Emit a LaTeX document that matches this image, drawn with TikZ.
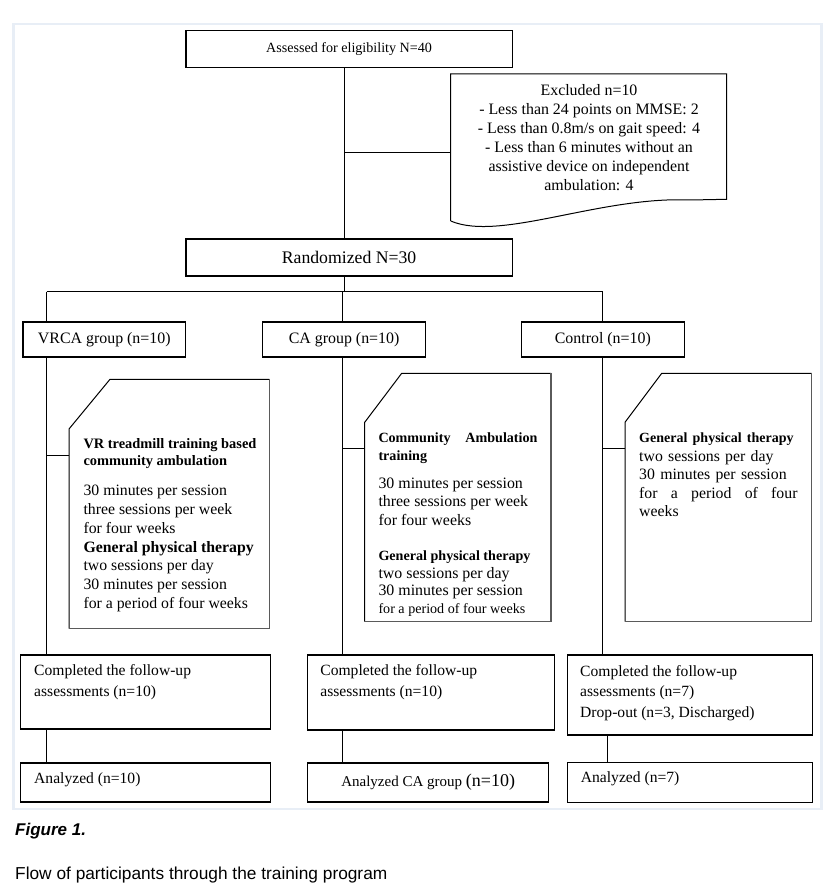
\documentclass[tikz,border=0pt]{standalone}
\usepackage{fontspec}
\setmainfont{Liberation Serif}
\newfontfamily\capfont{Liberation Sans}
\usetikzlibrary{calc}
\definecolor{framec}{HTML}{E8EEF6}
\definecolor{cardgray}{HTML}{5A5A5A}
\newcommand{\myfs}[2]{\fontsize{#1}{#2}\selectfont}
\begin{document}
\begin{tikzpicture}[x=1pt,y=-1pt,
  box/.style={draw=black, line width=1.2pt, inner sep=0pt, anchor=north west},
  txt/.style={inner sep=0pt, anchor=north west, align=left},
  link/.style={draw=black, line width=1pt},
  cardtop/.style={draw=black, line width=1pt},
  cardside/.style={draw=cardgray, line width=1.1pt},
]
\useasboundingbox (0,0) rectangle (834,893);
\fill[white] (0,0) rectangle (834,893);
\draw[framec, line width=2.7pt] (13.5,23.9) rectangle (821.3,809);

% reference coordinates for connector columns
\coordinate (v0) at (344.5,0);
\coordinate (v1) at (46.5,0);
\coordinate (v2) at (342.5,0);
\coordinate (v3) at (602.5,0);
\coordinate (w3) at (607.5,0);
\coordinate (hbar) at (0,291.5);

% main boxes
\node[box, minimum width=326.1pt, minimum height=37pt, font=\myfs{14.1}{17}] (assess) at (185.4,30.3) {Assessed for eligibility N=40};
\node[box, minimum width=326.1pt, minimum height=37pt, font=\myfs{17.7}{20}] (rand) at (185.4,238.3) {Randomized N=30};

% excluded document shape
\draw[link] (450.7,221) -- (450.7,74) -- (726.7,74) -- (726.7,199.3) -- (690,200) .. controls (600,196) and (500,242) .. (450.7,221);
\coordinate (exclW) at (450.7,152.5);
\node[inner sep=0pt, anchor=north, align=center, font=\myfs{15.9}{18.9}] (excltxt) at (589,84.5) {Excluded n=10\\- Less than 24 points on MMSE: 2\\- Less than 0.8m/s on gait speed: 4\\- Less than 6 minutes without an\\assistive device on independent\\ambulation: 4};

% group boxes
\node[box, minimum width=162.6pt, minimum height=35pt, font=\myfs{15.9}{18}] (vrca) at (22.4,321.3) {VRCA group (n=10)};
\node[box, minimum width=163pt, minimum height=35pt, font=\myfs{15.9}{18}] (ca) at (262,321.3) {CA group (n=10)};
\node[box, minimum width=162.5pt, minimum height=35pt, font=\myfs{15.9}{18}] (ctrl) at (521,321.3) {Control (n=10)};

% cards
\draw[cardtop] (69,628.7) -- (69,429) -- (110,379.3) -- (269.3,379.3);
\draw[cardside] (269.3,379.3) -- (269.3,628.7) -- (69,628.7);
\coordinate (card1W) at (69,455.5);
\draw[cardtop] (364.7,621.7) -- (364.7,422.3) -- (401.7,373.3) -- (551,373.3);
\draw[cardside] (551,373.3) -- (551,621.7) -- (364.7,621.7);
\coordinate (card2W) at (364.7,448.5);
\draw[cardtop] (625,621.7) -- (625,422.3) -- (661.7,373.3) -- (811.7,373.3);
\draw[cardside] (811.7,373.3) -- (811.7,621.7) -- (625,621.7);
\coordinate (card3W) at (625,448.5);

% card texts
\node[txt, font=\myfs{14.4}{16.7}\bfseries] (t1a) at (83.3,438.5) {VR treadmill training based\\community ambulation};
\node[txt, font=\myfs{15.8}{18.75}] (t1b) at (83.3,485.2) {30 minutes per session\\three sessions per week\\for four weeks\\\textbf{General physical therapy}\\two sessions per day\\30 minutes per session\\for a period of four weeks};

\node[txt, text width=159pt, font=\myfs{14.1}{17.4}\bfseries] (t2a) at (378.3,433) {Community\hfill Ambulation\\training};
\node[txt, font=\myfs{15.9}{18.35}] (t2b) at (378.3,477.8) {30 minutes per session\\three sessions per week\\for four weeks};
\node[txt, font=\myfs{15.9}{17.8}] (t2c) at (378.3,550.4) {{\myfs{14.1}{17.8}\bfseries General physical therapy}\\two sessions per day\\30 minutes per session\\{\myfs{14.1}{17.8}for a period of four weeks}};

\node[txt, text width=158.3pt, font=\myfs{15.8}{18.5}] (t3) at (639,433) {{\myfs{14}{18.5}\bfseries General physical therapy}\\two sessions per day\\30 minutes per session\\for\hfill a\hfill period\hfill of\hfill four\\weeks};

% completed boxes
\node[box, minimum width=249.8pt, minimum height=74pt] (comp1) at (20.2,654.3) {};
\node[box, minimum width=246.6pt, minimum height=75pt] (comp2) at (306.9,654.3) {};
\node[box, minimum width=245pt, minimum height=80pt] (comp3) at (566.5,654.3) {};
\node[txt, font=\myfs{15.6}{20.7}] (c1t) at (34,664.7) {Completed the follow-up\\assessments (n=10)};
\node[txt, font=\myfs{15.6}{20.7}] (c2t) at (320.2,664.7) {Completed the follow-up\\assessments (n=10)};
\node[txt, font=\myfs{15.6}{20.7}] (c3t) at (580,665) {Completed the follow-up\\assessments (n=7)\\Drop-out (n=3, Discharged)};

% analyzed boxes
\node[box, minimum width=249.8pt, minimum height=39pt] (an1) at (20.2,762.3) {};
\node[box, minimum width=241.3pt, minimum height=39pt] (an2) at (306.9,762.3) {\myfs{15}{18}Analyzed CA group {\myfs{18}{20}(n=10)}};
\node[box, minimum width=245pt, minimum height=40pt] (an3) at (566.5,761.7) {};
\node[txt, font=\myfs{15.6}{18}] (a1t) at (34,772) {Analyzed (n=10)};
\node[txt, font=\myfs{15.6}{18}] (a3t) at (580.7,771.3) {Analyzed (n=7)};

% connectors
\draw[link] (assess.south -| v0) -- (rand.north -| v0);
\draw[link] (exclW -| v0) -- (exclW);
\draw[link] (rand.south -| v0) -- (hbar -| v0);
\draw[link] (hbar -| v1) -- (hbar -| v3);
\draw[link] (hbar -| v1) -- (vrca.north -| v1);
\draw[link] (hbar -| v2) -- (ca.north -| v2);
\draw[link] (hbar -| v3) -- (ctrl.north -| v3);
\draw[link] (vrca.south -| v1) -- (comp1.north -| v1);
\draw[link] (ca.south -| v2) -- (comp2.north -| v2);
\draw[link] (ctrl.south -| v3) -- (comp3.north -| v3);
\draw[link] (card1W -| v1) -- (card1W);
\draw[link] (card2W -| v2) -- (card2W);
\draw[link] (card3W -| v3) -- (card3W);
\draw[link] (comp1.south -| v1) -- (an1.north -| v1);
\draw[link] (comp2.south -| v2) -- (an2.north -| v2);
\draw[link] (comp3.south -| w3) -- (an3.north -| w3);

% caption
\node[anchor=base west, inner sep=0pt, font=\capfont\myfs{17}{20}\bfseries\itshape] (figlab) at (15,835) {Figure 1.};
\node[anchor=base west, inner sep=0pt, font=\capfont\myfs{17.3}{20}] (figcap) at (15,879) {Flow of participants through the training program};
\end{tikzpicture}
\end{document}
